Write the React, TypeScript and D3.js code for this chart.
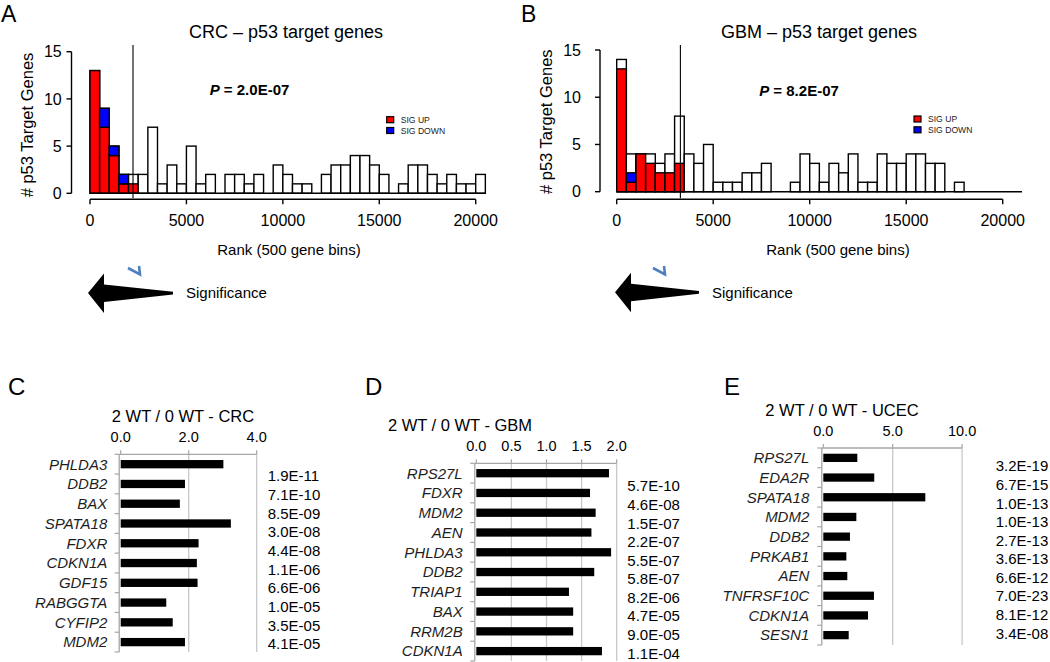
import React from "react";
import * as d3 from "d3";

const FONT = "'Liberation Sans', Arial, Helvetica, sans-serif";
const BIN = 500;
const rankTicks = [0, 5000, 10000, 15000, 20000];
const countTicks = [0, 5, 10, 15];
const legendItems = ["SIG UP", "SIG DOWN"];
const legendColors = ["#ff0000", "#0000ff"];

// Panel A - CRC histogram (counts per 500-gene bin)
const crcTotal = [13, 9, 5, 2, 2, 2, 7, 1, 3, 1, 5, 1, 2, 0, 2, 2, 1, 2, 0, 3, 2, 1, 1, 0, 2, 3, 3, 4, 4, 3, 2, 0, 1, 3, 3, 2, 1, 2, 1, 1, 2];
const crcUp = [13, 7, 4, 1, 1];
const crcDown = [0, 2, 1, 1, 0];
const crcCutoff = 2230;

// Panel B - GBM histogram
const gbmTotal = [14, 4, 4, 4, 3, 4, 8, 4, 3, 5, 1, 1, 1, 2, 2, 3, 0, 0, 1, 4, 3, 1, 3, 2, 4, 1, 1, 4, 3, 3, 4, 4, 3, 3, 0, 1, 0, 0, 0, 0, 0, 0];
const gbmUp = [13, 1, 4, 3, 2, 2, 3];
const gbmDown = [0, 1, 0, 0, 0, 0, 0];
const gbmCutoff = 3300;

// Panel C
const crcGenes = ["PHLDA3", "DDB2", "BAX", "SPATA18", "FDXR", "CDKN1A", "GDF15", "RABGGTA", "CYFIP2", "MDM2"];
const crcRatio = [3.02, 1.89, 1.74, 3.24, 2.29, 2.24, 2.26, 1.34, 1.53, 1.89];
const crcP = ["1.9E-11", "7.1E-10", "8.5E-09", "3.0E-08", "4.4E-08", "1.1E-06", "6.6E-06", "1.0E-05", "3.5E-05", "4.1E-05"];
const crcAxisTicks = [0, 2, 4];

// Panel D
const gbmGenes = ["RPS27L", "FDXR", "MDM2", "AEN", "PHLDA3", "DDB2", "TRIAP1", "BAX", "RRM2B", "CDKN1A"];
const gbmRatio = [1.89, 1.62, 1.7, 1.64, 1.92, 1.68, 1.32, 1.38, 1.38, 1.79];
const gbmP = ["5.7E-10", "4.6E-08", "1.5E-07", "2.2E-07", "5.5E-07", "5.8E-07", "8.2E-06", "4.7E-05", "9.0E-05", "1.1E-04"];
const gbmAxisTicks = [0, 0.5, 1, 1.5, 2];

// Panel E
const ucecGenes = ["RPS27L", "EDA2R", "SPATA18", "MDM2", "DDB2", "PRKAB1", "AEN", "TNFRSF10C", "CDKN1A", "SESN1"];
const ucecRatio = [2.45, 3.67, 7.35, 2.38, 1.92, 1.66, 1.73, 3.65, 3.22, 1.83];
const ucecP = ["3.2E-19", "6.7E-15", "1.0E-13", "1.0E-13", "2.7E-13", "3.6E-13", "6.6E-12", "7.0E-23", "8.1E-12", "3.4E-08"];
const ucecAxisTicks = [0, 5, 10];

const bl = (c: number, f: number) => c + 0.355 * f;

function Histogram(props: any) {
  const { totals, up, down, cutoff, title, pval, L, letter } = props;
  const x = d3.scaleLinear().domain([0, 20000]).range([L.x0, L.x1]);
  const y = d3.scaleLinear().domain([0, 15]).range([L.y0, L.y1]);
  const sw = 1.4;
  const arrowPts = [
    [L.arrTip, L.arrY],
    [L.arrTip + 16, L.arrY - 19.5],
    [L.arrTip + 16, L.arrY - 8.5],
    [L.arrTail, L.arrY - 1.2],
    [L.arrTail, L.arrY + 1.5],
    [L.arrTip + 16, L.arrY + 9],
    [L.arrTip + 16, L.arrY + 20],
  ];
  return (
    <g fontFamily={FONT}>
      <text x={L.letterX} y={22} fontSize={23}>{letter}</text>
      <text x={L.titleX} y={bl(31.5, 18)} fontSize={18} textAnchor="middle">{title}</text>
      {/* bars */}
      {totals.map((t: number, i: number) => {
        const xa = x(i * BIN), xb = x((i + 1) * BIN);
        const u = up[i] || 0, d = down[i] || 0;
        return (
          <g key={i}>
            {t > 0 && <rect x={xa} y={y(t)} width={xb - xa} height={y(0) - y(t)} fill="#fff" stroke="#000" strokeWidth={sw} />}
            {u > 0 && <rect x={xa} y={y(u)} width={xb - xa} height={y(0) - y(u)} fill="#ff0000" stroke="#000" strokeWidth={sw} />}
            {d > 0 && <rect x={xa} y={y(u + d)} width={xb - xa} height={y(u) - y(u + d)} fill="#0000ff" stroke="#000" strokeWidth={sw} />}
          </g>
        );
      })}
      <line x1={x(0)} x2={x(totals.length * BIN)} y1={y(0)} y2={y(0)} stroke="#000" strokeWidth={sw} />
      {/* y axis */}
      <line x1={L.yAxisX} x2={L.yAxisX} y1={y(0)} y2={y(15)} stroke="#000" strokeWidth={1.4} />
      {countTicks.map((t) => (
        <g key={t}>
          <line x1={L.yAxisX - 5} x2={L.yAxisX} y1={y(t)} y2={y(t)} stroke="#000" strokeWidth={1.4} />
          <text x={L.yLabR} y={bl(y(t), 16)} fontSize={16} textAnchor="end">{t}</text>
        </g>
      ))}
      <text transform={`translate(${L.yTitleX},${L.yTitleY}) rotate(-90)`} y={0.355 * 16.5} fontSize={16.5} textAnchor="middle">
        # p53 Target Genes
      </text>
      {/* x axis */}
      <line x1={x(0)} x2={x(20000)} y1={L.xAxisY} y2={L.xAxisY} stroke="#000" strokeWidth={1.4} />
      {rankTicks.map((t) => (
        <g key={t}>
          <line x1={x(t)} x2={x(t)} y1={L.xAxisY} y2={L.xAxisY + 5} stroke="#000" strokeWidth={1.4} />
          <text x={x(t)} y={bl(220, 16)} fontSize={16} textAnchor="middle">{t}</text>
        </g>
      ))}
      <text x={L.xTitleX} y={bl(250, 15)} fontSize={15} textAnchor="middle">Rank (500 gene bins)</text>
      {/* cutoff */}
      <line x1={x(cutoff)} x2={x(cutoff)} y1={45} y2={L.xAxisY - 1} stroke="#000" strokeWidth={1.1} />
      {/* p value */}
      <text x={L.pX} y={bl(L.pY, 15)} fontSize={15} fontWeight="bold" textAnchor="middle">
        <tspan fontStyle="italic">P</tspan> = {pval}
      </text>
      {/* legend */}
      {legendItems.map((s, i) => (
        <g key={s}>
          <rect x={L.legX} y={L.legY + i * 10.8} width={7} height={6} fill={legendColors[i]} stroke="#000" strokeWidth={1.2} />
          <text x={L.legX + 14} y={bl(L.legY + 3 + i * 10.8, 8.6)} fontSize={8.6} fill="#222">{s}</text>
        </g>
      ))}
      {/* significance arrow */}
      <polygon points={arrowPts.map((p) => p.join(",")).join(" ")} fill="#000" />
      <text x={L.arrTail + 13} y={bl(L.arrY, 15)} fontSize={15}>Significance</text>
      <path d={`M${L.markX},${268} L${L.markX + 12},${274.5} L${L.markX + 11},${266}`} fill="none" stroke="#4f7fc0" strokeWidth={2.6} />
    </g>
  );
}

function HBar(props: any) {
  const { genes, values, pvals, ticks, L, title, letter } = props;
  const x = d3.scaleLinear().domain([0, ticks[ticks.length - 1]]).range([L.x0, L.x1]);
  const yb = d3.scaleBand().domain(genes).range([L.top, L.bottom]).paddingInner(0.58).paddingOuter(0.29);
  const yp = d3.scalePoint().domain(genes.map((_: string, i: number) => String(i))).range([L.pTop, L.pBottom]);
  const step = yb.step();
  const grey = "#a6a6a6";
  return (
    <g fontFamily={FONT}>
      <text x={L.letterX} y={bl(L.letterY, 24)} fontSize={24}>{letter}</text>
      <text x={L.titleX} y={bl(L.top - 38, 16.5)} fontSize={16.5} textAnchor="middle">{title}</text>
      {ticks.map((t: number) => (
        <g key={t}>
          {t > 0 && <line x1={x(t)} x2={x(t)} y1={L.top} y2={L.bottom} stroke="#c8c8c8" strokeWidth={1.3} />}
          <line x1={x(t)} x2={x(t)} y1={L.top - 4} y2={L.top} stroke={grey} strokeWidth={1.2} />
          <text x={x(t)} y={bl(L.top - 17, 14.5)} fontSize={14.5} textAnchor="middle">{t.toFixed(1)}</text>
        </g>
      ))}
      <line x1={x(0) - 1.5} x2={x(ticks[ticks.length - 1])} y1={L.top} y2={L.top} stroke={grey} strokeWidth={1.3} />
      <line x1={x(0) - 1.5} x2={x(0) - 1.5} y1={L.top} y2={L.bottom} stroke={grey} strokeWidth={1.3} />
      {d3.range(genes.length + 1).map((i) => (
        <line key={i} x1={x(0) - 6} x2={x(0) - 1.5} y1={L.top + i * step} y2={L.top + i * step} stroke={grey} strokeWidth={1.2} />
      ))}
      {genes.map((g: string, i: number) => (
        <g key={g}>
          <rect x={x(0)} y={yb(g)} width={x(values[i]) - x(0)} height={yb.bandwidth()} fill="#000" />
          <text x={L.labelR} y={bl((yb(g) as number) + yb.bandwidth() / 2, 15)} fontSize={15} fontStyle="italic" textAnchor="end" fill="#1e1e1e">
            {g}
          </text>
          <text x={L.pX} y={bl(yp(String(i)) as number, 15)} fontSize={15}>{pvals[i]}</text>
        </g>
      ))}
    </g>
  );
}

export default function App() {
  const LA = {
    x0: 90, x1: 475.7, y0: 193.3, y1: 51.7, yAxisX: 71.5, yLabR: 61.7, yTitleX: 26.7, yTitleY: 125,
    xAxisY: 199.3, xTitleX: 289, titleX: 286, pX: 249.5, pY: 90, legX: 386.7, legY: 116.7,
    arrTip: 88, arrY: 293, arrTail: 173, markX: 128, letterX: 1,
  };
  const LB = {
    x0: 616.7, x1: 1002.7, y0: 191.7, y1: 50, yAxisX: 600, yLabR: 581, yTitleX: 546, yTitleY: 121.7,
    xAxisY: 199.3, xTitleX: 838, titleX: 819, pX: 799, pY: 90.7, legX: 914, legY: 116,
    arrTip: 615, arrY: 292.3, arrTail: 699, markX: 653, letterX: 521,
  };
  const LC = { x0: 120.7, x1: 256.7, top: 454.3, bottom: 652, labelR: 107.3, pX: 267.7, pTop: 476, pBottom: 644, titleX: 183, letterX: 8, letterY: 386 };
  const LD = { x0: 476.3, x1: 616.7, top: 463.3, bottom: 661, labelR: 462.7, pX: 627.3, pTop: 486, pBottom: 653.3, titleX: 460, letterX: 365, letterY: 386 };
  const LE = { x0: 823.3, x1: 962.1, top: 448, bottom: 645, labelR: 809.3, pX: 995.7, pTop: 466, pBottom: 633.3, titleX: 842, letterX: 724, letterY: 386 };
  return (
    <svg width={1050} height={662} style={{ position: "absolute", left: 0, top: 0, background: "#fff" }}>
      <rect width={1050} height={662} fill="#fff" />
      <Histogram totals={crcTotal} up={crcUp} down={crcDown} cutoff={crcCutoff} title="CRC – p53 target genes" pval="2.0E-07" L={LA} letter="A" />
      <Histogram totals={gbmTotal} up={gbmUp} down={gbmDown} cutoff={gbmCutoff} title="GBM – p53 target genes" pval="8.2E-07" L={LB} letter="B" />
      <HBar genes={crcGenes} values={crcRatio} pvals={crcP} ticks={crcAxisTicks} L={LC} title="2 WT / 0 WT - CRC" letter="C" />
      <HBar genes={gbmGenes} values={gbmRatio} pvals={gbmP} ticks={gbmAxisTicks} L={LD} title="2 WT / 0 WT - GBM" letter="D" />
      <HBar genes={ucecGenes} values={ucecRatio} pvals={ucecP} ticks={ucecAxisTicks} L={LE} title="2 WT / 0 WT - UCEC" letter="E" />
    </svg>
  );
}
